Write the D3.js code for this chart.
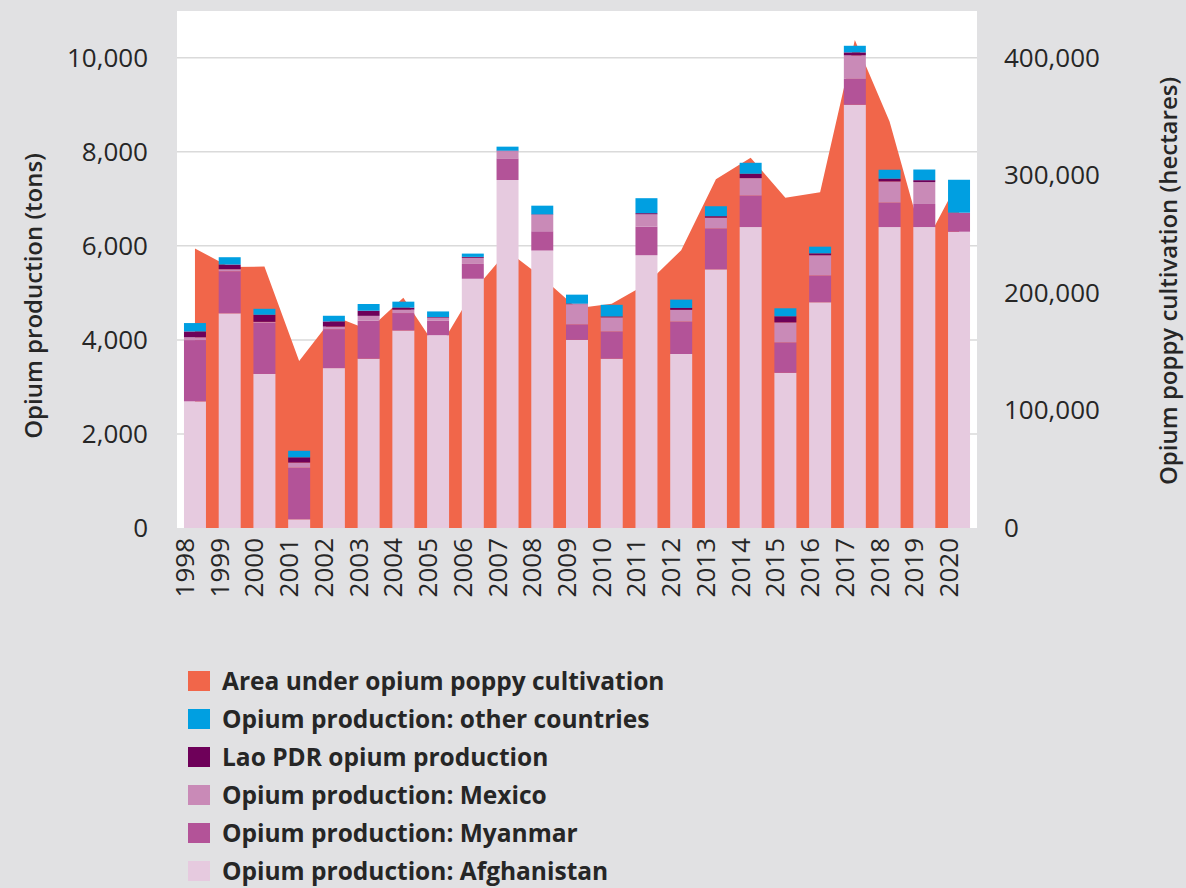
<!DOCTYPE html>
<html>
<head>
<meta charset="utf-8">
<script src="https://cdn.jsdelivr.net/npm/d3@7"></script>
<style>
  body { margin: 0; background: #e1e1e3; }
  svg { display: block; font-family: 'Open Sans', sans-serif; }
</style>
</head>
<body>
<svg id="chart" width="1186" height="888"></svg>
<script>
// Data
const years = ['1998', '1999', '2000', '2001', '2002', '2003', '2004', '2005', '2006', '2007', '2008', '2009',
  '2010', '2011', '2012', '2013', '2014', '2015', '2016', '2017', '2018', '2019', '2020'];

const afghanistan = [2693, 4565, 3276, 185, 3400, 3600, 4200, 4100, 5300, 7400, 5900, 4000,
  3600, 5800, 3700, 5500, 6400, 3300, 4800, 9000, 6400, 6400, 6300];
const myanmar = [1303, 895, 1087, 1097, 828, 810, 370, 312, 315, 460, 410, 330,
  580, 610, 690, 870, 670, 647, 570, 550, 520, 490, 405];
const mexico = [60, 43, 21, 110, 55, 101, 73, 60, 130, 155, 350, 430,
  300, 260, 250, 230, 370, 425, 430, 500, 450, 465, 0];
const lao = [124, 100, 150, 110, 110, 110, 43, 14, 20, 9, 10, 11,
  18, 25, 40, 30, 92, 130, 40, 64, 57, 42, 0];
const otherCountries = [178, 155, 127, 140, 120, 142, 127, 119, 70, 85, 184, 191,
  248, 318, 177, 212, 234, 170, 142, 140, 191, 226, 700];

const cultivation = [237800, 222000, 222400, 142100, 180200, 168600, 195900, 151500, 201000, 235700, 213000, 187000,
  190700, 207500, 236300, 296700, 315000, 281000, 285500, 415000, 345800, 240000, 296000];

const leftTicks = [0, 2000, 4000, 6000, 8000, 10000];
const rightTicks = [0, 100000, 200000, 300000, 400000];

const series = [
  { name: 'Opium production: Afghanistan', values: afghanistan, color: '#e6cadf' },
  { name: 'Opium production: Myanmar', values: myanmar, color: '#b35398' },
  { name: 'Opium production: Mexico', values: mexico, color: '#c98ab7' },
  { name: 'Lao PDR opium production', values: lao, color: '#6e0059' },
  { name: 'Opium production: other countries', values: otherCountries, color: '#009fe1' }
];
const areaColor = '#f1664a';
const textColor = '#262626';

const svg = d3.select('#chart');

const plot = { left: 177, right: 977, top: 11, bottom: 528 };

// Background
svg.append('rect').attr('width', 1186).attr('height', 888).attr('fill', '#e1e1e3');
svg.append('rect')
  .attr('x', plot.left)
  .attr('y', plot.top)
  .attr('width', plot.right - plot.left)
  .attr('height', plot.bottom - plot.top)
  .attr('fill', '#ffffff');

// Scales
const x = d3.scaleBand()
  .domain(years)
  .range([177.6, 976.4])
  .paddingInner(0.367)
  .paddingOuter(0.1835);

const yLeft = d3.scaleLinear().domain([0, 11000]).range([plot.bottom, 10.7]);
const yRight = d3.scaleLinear().domain([0, 440000]).range([plot.bottom, 10.7]);

// Gridlines
svg.append('g')
  .selectAll('line')
  .data(leftTicks.filter((d) => d > 0))
  .enter()
  .append('line')
  .attr('x1', plot.left)
  .attr('x2', plot.right)
  .attr('y1', (d) => yLeft(d))
  .attr('y2', (d) => yLeft(d))
  .attr('stroke', '#dadada')
  .attr('stroke-width', 1.5);

// Area under cultivation
const area = d3.area()
  .x((d, i) => x(years[i]) + x.bandwidth() / 2)
  .y0(yRight(0))
  .y1((d) => yRight(d));

svg.append('path')
  .datum(cultivation)
  .attr('d', area)
  .attr('fill', areaColor);

// Stacked bars
const rows = years.map((yr, i) => {
  const row = { year: yr };
  series.forEach((s) => (row[s.name] = s.values[i]));
  return row;
});
const stack = d3.stack().keys(series.map((s) => s.name));
const stacked = stack(rows);

svg.append('g')
  .selectAll('g')
  .data(stacked)
  .enter()
  .append('g')
  .attr('fill', (d, i) => series[i].color)
  .selectAll('rect')
  .data((d) => d)
  .enter()
  .append('rect')
  .attr('x', (d) => x(d.data.year))
  .attr('width', x.bandwidth())
  .attr('y', (d) => yLeft(d[1]))
  .attr('height', (d) => yLeft(d[0]) - yLeft(d[1]));

// Left axis
const leftAxis = svg.append('g')
  .attr('transform', 'translate(148,0)')
  .call(d3.axisLeft(yLeft).tickValues(leftTicks).tickFormat(d3.format(',')).tickSize(0).tickPadding(0));
leftAxis.select('.domain').remove();
leftAxis.selectAll('text')
  .attr('font-family', "'Open Sans', sans-serif")
  .attr('font-size', '26px')
  .attr('fill', textColor);

// Right axis
const rightAxis = svg.append('g')
  .attr('transform', 'translate(1004,0)')
  .call(d3.axisRight(yRight).tickValues(rightTicks).tickFormat(d3.format(',')).tickSize(0).tickPadding(0));
rightAxis.select('.domain').remove();
rightAxis.selectAll('text')
  .attr('font-family', "'Open Sans', sans-serif")
  .attr('font-size', '26px')
  .attr('fill', textColor);

// Year labels
svg.append('g')
  .selectAll('text')
  .data(years)
  .enter()
  .append('text')
  .attr('transform', (d) => `translate(${x(d) + x.bandwidth() / 2 - 1},538) rotate(-90)`)
  .attr('text-anchor', 'end')
  .attr('font-size', '26px')
  .attr('fill', textColor)
  .text((d) => d);

// Axis titles
svg.append('text')
  .attr('transform', 'translate(42,296) rotate(-90)')
  .attr('text-anchor', 'middle')
  .attr('font-size', '24px')
  .attr('font-weight', 600)
  .attr('fill', textColor)
  .text('Opium production (tons)');

svg.append('text')
  .attr('transform', 'translate(1177,281) rotate(-90)')
  .attr('text-anchor', 'middle')
  .attr('font-size', '24px')
  .attr('font-weight', 600)
  .attr('fill', textColor)
  .text('Opium poppy cultivation (hectares)');

// Legend
const legendItems = [
  { name: 'Area under opium poppy cultivation', color: areaColor },
  ...series.slice().reverse()
];

const legend = svg.append('g')
  .selectAll('g')
  .data(legendItems)
  .enter()
  .append('g')
  .attr('transform', (d, i) => `translate(188,${681 + i * 38})`);

legend.append('rect')
  .attr('x', 0)
  .attr('y', -10)
  .attr('width', 22)
  .attr('height', 20)
  .attr('fill', (d) => d.color);

legend.append('text')
  .attr('x', 34)
  .attr('y', 0)
  .attr('dy', '0.35em')
  .attr('font-size', '24.5px')
  .attr('font-weight', 'bold')
  .attr('fill', textColor)
  .text((d) => d.name);
</script>
</body>
</html>
